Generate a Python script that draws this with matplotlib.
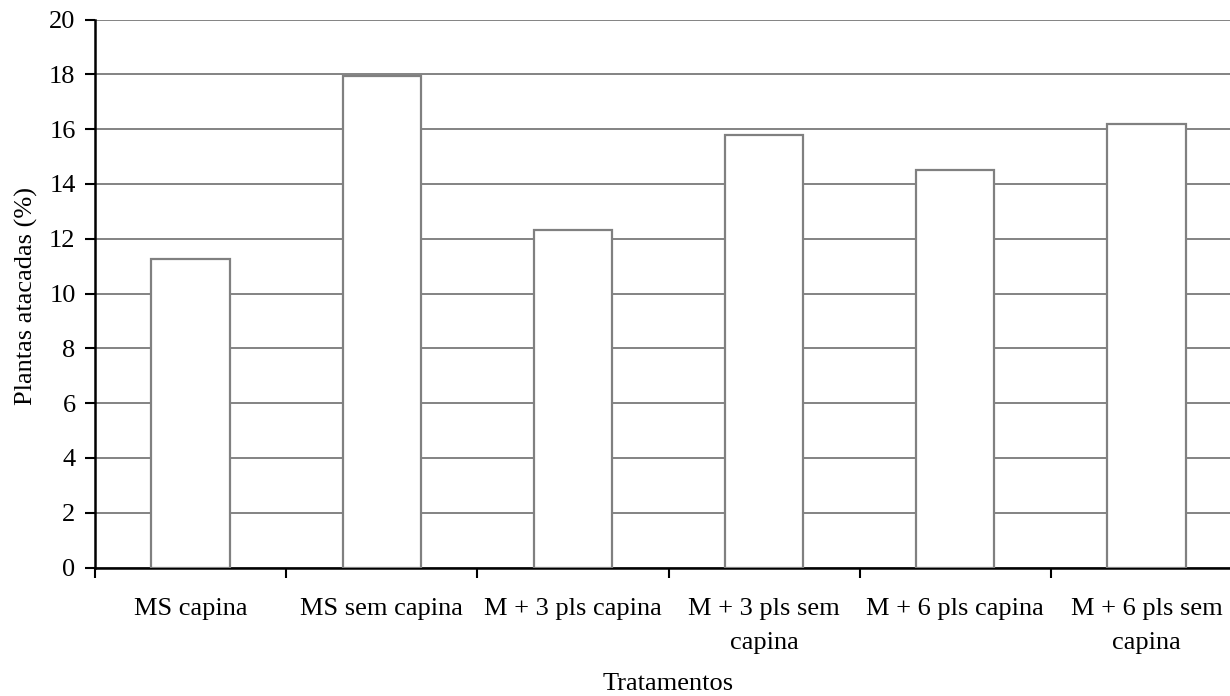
import numpy as np
import matplotlib.pyplot as plt
from matplotlib.ticker import FixedLocator, NullFormatter, FixedFormatter

# Data
tratamentos = ['MS capina', 'MS sem capina', 'M + 3 pls capina',
               'M + 3 pls sem\ncapina', 'M + 6 pls capina', 'M + 6 pls sem\ncapina']
plantas_atacadas = [11.25, 17.95, 12.32, 15.78, 14.5, 16.2]

plt.rcParams['font.family'] = ['Liberation Serif', 'DejaVu Serif']
fs = 19

fig = plt.figure(figsize=(12.3, 6.96), dpi=100)
# right edge of the plot is cut off in the original
ax = fig.add_axes([95 / 1230, 1 - 567.5 / 696, 1147 / 1230, 548 / 696])

x = np.arange(len(tratamentos))
ax.bar(x, plantas_atacadas, width=0.41, color='white', edgecolor='#808080',
       linewidth=1.6, zorder=3)

ax.set_xlim(-0.5, len(tratamentos) - 0.5)
ax.set_ylim(0, 20)
ax.set_yticks(np.arange(0, 21, 2))
ax.yaxis.grid(True, color='#7a7a7a', linewidth=1.3, zorder=0)
ax.set_axisbelow(True)

# category boundaries get the tick marks, centres get the labels
ax.xaxis.set_major_locator(FixedLocator(np.arange(-0.5, len(tratamentos), 1.0)))
ax.xaxis.set_major_formatter(NullFormatter())
ax.xaxis.set_minor_locator(FixedLocator(x))
ax.xaxis.set_minor_formatter(FixedFormatter(tratamentos))
ax.tick_params(axis='x', which='major', length=7, width=1.5, direction='out')
ax.tick_params(axis='x', which='minor', length=0, pad=22, labelsize=fs)
ax.tick_params(axis='y', length=7, width=1.5, direction='out', labelsize=fs, pad=7)
for lbl in ax.xaxis.get_minorticklabels():
    lbl.set_linespacing(1.7)

for s in ['top', 'right']:
    ax.spines[s].set_visible(False)
ax.spines['left'].set_linewidth(1.8)
ax.spines['bottom'].set_linewidth(1.8)

ax.set_ylabel('Plantas atacadas (%)', fontsize=fs)
ax.yaxis.set_label_coords(-0.05, 0.495)
ax.set_xlabel('Tratamentos', fontsize=fs)
ax.xaxis.set_label_coords(0.5, -0.193)

fig.savefig('out.png', dpi=100)
